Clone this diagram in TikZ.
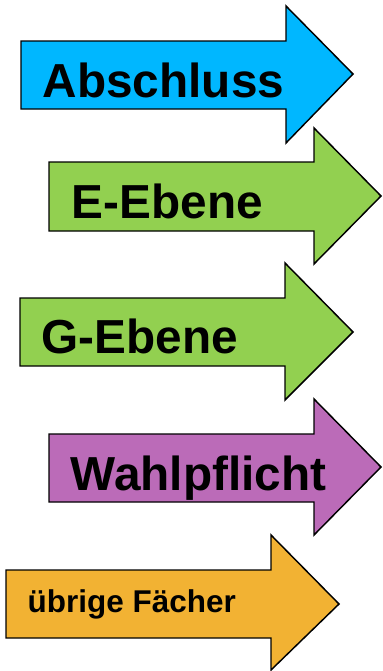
\documentclass[tikz,border=0pt]{standalone}
\usepackage{fontspec}
\setmainfont{Liberation Sans}
\definecolor{abschlussblue}{RGB}{0,183,255}
\definecolor{ebenegreen}{RGB}{146,208,80}
\definecolor{wahlpurple}{RGB}{187,107,184}
\definecolor{faecherorange}{RGB}{242,178,51}
\begin{document}
\begin{tikzpicture}[x=0.75pt,y=-0.75pt,line width=1.1pt,
  shaft/.style={draw=black,line join=miter},
  big label/.style={anchor=base west,inner sep=0pt,font=\bfseries\fontsize{35.8}{40}\selectfont},
  small label/.style={big label,font=\bfseries\fontsize{23.6}{28}\selectfont}]
\useasboundingbox (0,0) rectangle (382,671);

\draw[shaft, fill=abschlussblue] (21,41) -- (286,41) -- (286,6) -- (353,74) -- (286,143) -- (286,109) -- (21,109) -- cycle;
\node[big label] at (42,97) (abschluss) {Abschluss};

\draw[shaft, fill=ebenegreen] (49,162) -- (314,162) -- (314,128) -- (381,196) -- (314,264) -- (314,231) -- (49,231) -- cycle;
\node[big label] at (71,218) (eebene) {E-Ebene};

\draw[shaft, fill=ebenegreen] (20,298) -- (285,298) -- (285,263) -- (353,332) -- (285,400) -- (285,366) -- (20,366) -- cycle;
\node[big label] at (41,353) (gebene) {G-Ebene};

\draw[shaft, fill=wahlpurple] (49,434) -- (314,434) -- (314,399) -- (381,467) -- (314,535) -- (314,502) -- (49,502) -- cycle;
\node[big label] at (70,490) (wahlpflicht) {Wahlpflicht};

\draw[shaft, fill=faecherorange] (6,570) -- (271,570) -- (271,535) -- (339,604) -- (271,670) -- (271,638) -- (6,638) -- cycle;
\node[small label] at (27,612) (faecher) {übrige Fächer};
\end{tikzpicture}
\end{document}
